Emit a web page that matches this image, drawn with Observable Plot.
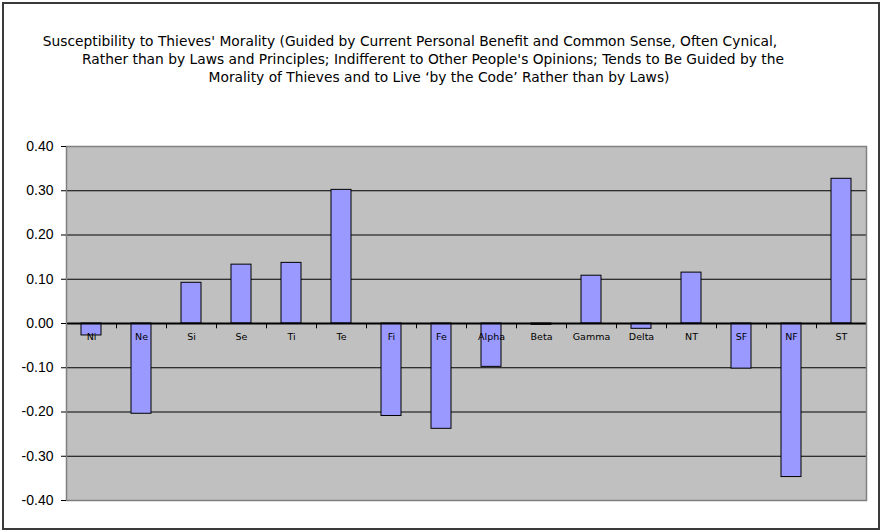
<!DOCTYPE html>
<html>
<head>
<meta charset="utf-8">
<script src="https://cdn.jsdelivr.net/npm/d3@7"></script>
<script src="https://cdn.jsdelivr.net/npm/@observablehq/plot@0.6"></script>
<style>
  html, body { margin: 0; padding: 0; background: #fff; }
  #frame {
    position: absolute; left: 2px; top: 2px; width: 874px; height: 524px;
    border: 2px solid #3a3a3a; box-sizing: content-box; pointer-events: none;
  }
  #wrap { position: relative; width: 882px; height: 531px; overflow: hidden; }
  #title {
    height: 130px; box-sizing: border-box; padding-top: 33px;
    font-family: "DejaVu Sans", sans-serif; font-size: 13.8px; line-height: 17.8px; color: #000;
  }
  #title div { text-align: center; white-space: nowrap; position: relative; }
  svg { display: block; }
  #chart svg g[aria-label="y-axis tick label"] text { font-size: 14px; }
</style>
</head>
<body>
<div id="wrap">
  <div id="title"></div>
  <div id="chart"></div>
  <div id="frame"></div>
</div>
<script>
const titleLines = [
  "Susceptibility to Thieves' Morality (Guided by Current Personal Benefit and Common Sense, Often Cynical,",
  "Rather than by Laws and Principles; Indifferent to Other People's Opinions; Tends to Be Guided by the",
  "Morality of Thieves and to Live \u2018by the Code\u2019 Rather than by Laws)"
];
const titleShift = [-31, -8, -2];

const categories = ["Ni","Ne","Si","Se","Ti","Te","Fi","Fe","Alpha","Beta","Gamma","Delta","NT","SF","NF","ST"];
const values = [-0.027, -0.204, 0.092, 0.133, 0.137, 0.302, -0.209, -0.238, -0.098, -0.003, 0.108, -0.012, 0.115, -0.102, -0.347, 0.327];
const yTicks = [-0.4, -0.3, -0.2, -0.1, 0, 0.1, 0.2, 0.3, 0.4];

const data = categories.map((c, i) => ({category: c, value: values[i]}));

const t = document.getElementById("title");
titleLines.forEach((s, i) => {
  const d = document.createElement("div");
  d.textContent = s;
  d.style.left = titleShift[i] + "px";
  t.appendChild(d);
});

const chart = Plot.plot({
  width: 882,
  height: 401,
  marginLeft: 66,
  marginRight: 16,
  marginTop: 16,
  marginBottom: 31,
  style: {background: "transparent", color: "#000"},
  x: {domain: categories, paddingInner: 0.6, paddingOuter: 0.3, axis: null},
  y: {domain: [-0.4, 0.4], ticks: yTicks, grid: false, label: null},
  marks: [
    Plot.frame({fill: "#C0C0C0", stroke: "none"}),
    Plot.gridY(yTicks.filter(d => d !== -0.4 && d !== 0.4), {stroke: "#000", strokeOpacity: 1, strokeWidth: 1}),
    Plot.barY(data, {x: "category", y: "value", fill: "#9999FF", stroke: "#000", strokeWidth: 1}),
    Plot.ruleY([0], {stroke: "#000", strokeWidth: 2}),
    Plot.ruleX(categories, {x: d => d, y1: 0, y2: -0.012, dx: 25, stroke: "#000", strokeWidth: 1}),
    Plot.text(data, {x: "category", y: 0, text: "category", dy: 13, fontSize: 9.5, fontFamily: "DejaVu Sans", fill: "#000"}),
    Plot.frame({fill: "none", stroke: "#808080", strokeWidth: 1.5}),
    Plot.axisY({ticks: yTicks, tickFormat: d => d.toFixed(2), tickSize: 5, tickPadding: 8, fontSize: 14, fontFamily: "Liberation Sans, Arial, sans-serif", label: null, stroke: "#000"})
  ]
});
document.getElementById("chart").appendChild(chart);
</script>
</body>
</html>
